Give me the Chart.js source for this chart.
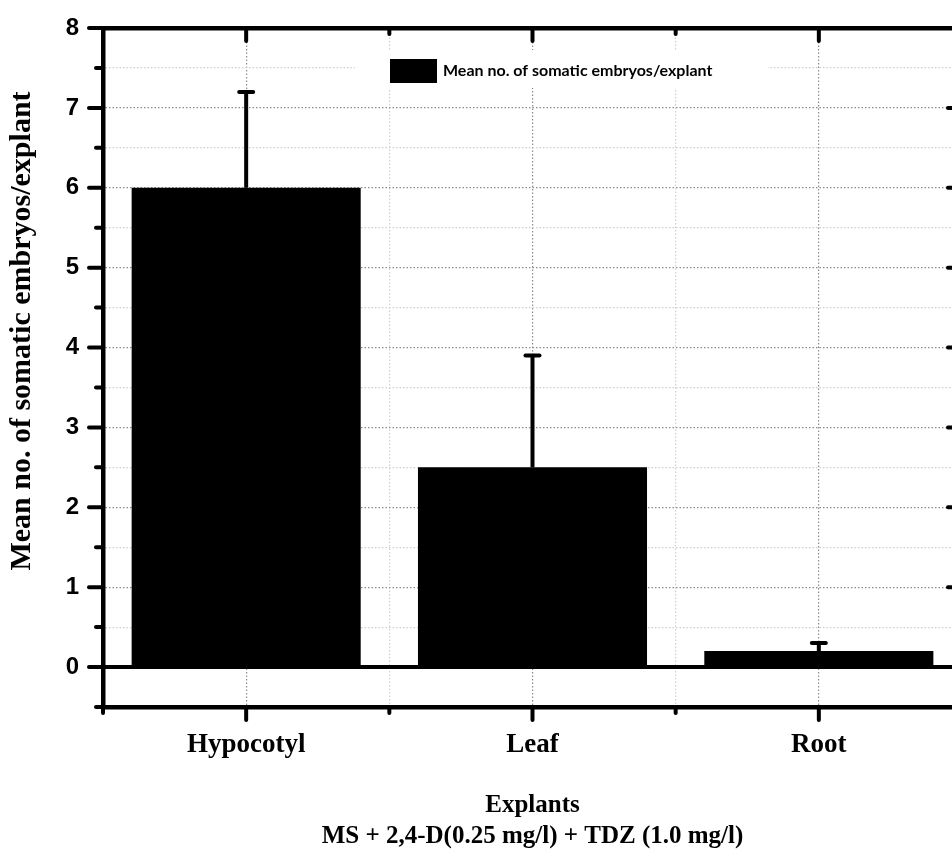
<!DOCTYPE html>
<html>
<head>
<meta charset="utf-8">
<script src="https://cdn.jsdelivr.net/npm/chart.js@4.4.0/dist/chart.umd.min.js"></script>
<style>
  html, body { margin: 0; padding: 0; background: #fff; overflow: hidden; }
  #wrap { width: 972px; height: 854px; }
</style>
</head>
<body>
<div id="wrap"><canvas id="myChart" width="972" height="854"></canvas></div>
<script>
// data
var explants = ['Hypocotyl', 'Leaf', 'Root'];
var meanEmbryos = [6.0, 2.5, 0.2];
var errEmbryos = [1.2, 1.4, 0.1];
var yTickLabels = [0, 1, 2, 3, 4, 5, 6, 7, 8];
var seriesLabel = 'Mean no. of somatic embryos/explant';
var yTitle = 'Mean no. of somatic embryos/explant';
var xTitle = ['Explants', 'MS + 2,4-D(0.25 mg/l) + TDZ (1.0 mg/l)'];

var serif = '"Liberation Serif", "Times New Roman", serif';
var axisW = 4.5;

// error bars, zero line, inset legend, tick marks, y title
var extras = {
    id: 'extras',
    afterDatasetsDraw: function(chart) {
        var ctx = chart.ctx, a = chart.chartArea, y = chart.scales.y;
        ctx.save();
        ctx.strokeStyle = '#000';

        // baseline at zero
        var y0 = y.getPixelForValue(0);
        ctx.lineWidth = 4;
        ctx.beginPath(); ctx.moveTo(a.left, y0); ctx.lineTo(a.right, y0); ctx.stroke();

        // error bars (only the upper half shows above the bar)
        var meta = chart.getDatasetMeta(0);
        meta.data.forEach(function(bar, i) {
            var top = y.getPixelForValue(meanEmbryos[i] + errEmbryos[i]);
            ctx.lineWidth = 4;
            ctx.lineCap = 'butt';
            ctx.beginPath(); ctx.moveTo(bar.x, bar.y); ctx.lineTo(bar.x, top); ctx.stroke();
            ctx.lineCap = 'round';
            ctx.beginPath(); ctx.moveTo(bar.x - 7, top); ctx.lineTo(bar.x + 7, top); ctx.stroke();
        });

        // legend inside the plot
        var lx = a.left + 287, ly = a.top + 31;
        ctx.fillStyle = '#fff';
        ctx.fillRect(lx - 35, ly - 9, 413, 38);
        ctx.fillStyle = chart.data.datasets[0].backgroundColor;
        ctx.fillRect(lx, ly, 47, 24);
        ctx.fillStyle = '#000';
        ctx.font = 'bold 16px Lato, "Open Sans", sans-serif';
        ctx.textBaseline = 'middle';
        ctx.textAlign = 'left';
        ctx.fillText(chart.data.datasets[0].label, lx + 53, ly + 12);
        ctx.restore();
    },
    afterDraw: function(chart) {
        var ctx = chart.ctx, a = chart.chartArea, x = chart.scales.x, y = chart.scales.y;
        ctx.save();
        ctx.strokeStyle = '#000';
        ctx.lineWidth = 4;
        ctx.lineCap = 'round';
        // y ticks, outward on the left, inward on the right
        y.ticks.forEach(function(t) {
            var p = y.getPixelForValue(t.value);
            var len = Number.isInteger(t.value) ? 14 : 7;
            ctx.beginPath(); ctx.moveTo(a.left, p); ctx.lineTo(a.left - len, p); ctx.stroke();
            ctx.beginPath(); ctx.moveTo(a.right, p); ctx.lineTo(a.right - len, p); ctx.stroke();
        });
        // x ticks, majors at categories, minors between
        explants.forEach(function(lab, i) {
            var p = x.getPixelForTick(i);
            ctx.beginPath(); ctx.moveTo(p, a.bottom); ctx.lineTo(p, a.bottom + 13); ctx.stroke();
            ctx.beginPath(); ctx.moveTo(p, a.top); ctx.lineTo(p, a.top + 13); ctx.stroke();
        });
        for (var b = -0.5; b <= explants.length - 0.5; b += 1) {
            var q = x.getPixelForValue(b);
            ctx.beginPath(); ctx.moveTo(q, a.bottom); ctx.lineTo(q, a.bottom + 6); ctx.stroke();
            ctx.beginPath(); ctx.moveTo(q, a.top); ctx.lineTo(q, a.top + 6); ctx.stroke();
        }
        // y axis title
        ctx.translate(22, 331);
        ctx.rotate(-Math.PI / 2);
        ctx.fillStyle = '#000';
        ctx.font = 'bold 30px ' + serif;
        ctx.textAlign = 'center';
        ctx.textBaseline = 'middle';
        ctx.fillText(yTitle, 0, 0);
        ctx.restore();
    }
};

var ctx = document.getElementById('myChart').getContext('2d');
var myChart = new Chart(ctx, {
    type: 'bar',
    data: {
        labels: explants,
        datasets: [{
            label: seriesLabel,
            data: meanEmbryos,
            backgroundColor: '#000000',
            borderWidth: 0,
            barPercentage: 0.8,
            categoryPercentage: 1.0
        }]
    },
    options: {
        responsive: false,
        animation: false,
        layout: { padding: { top: 0, right: 10, left: 0, bottom: 0 } },
        plugins: {
            legend: { display: false },
            tooltip: { enabled: false }
        },
        scales: {
            x: {
                offset: true,
                afterFit: function(s) { s.height = 147; },
                grid: { offset: false, drawTicks: false, color: '#8c8c8c', lineWidth: 1.2 },
                border: { display: true, width: axisW, color: '#000', dash: [1.5, 2] },
                ticks: { padding: 22, color: '#000', maxRotation: 0,
                    font: { family: serif, weight: 'bold', size: 27 } },
                title: { display: true, text: xTitle, color: '#000',
                    font: { family: serif, weight: 'bold', size: 25, lineHeight: 1.24 },
                    padding: { top: 0, bottom: 2 } }
            },
            x2: {
                type: 'category',
                position: 'top',
                offset: true,
                afterFit: function(s) { s.height = 28; },
                grid: { offset: true, drawTicks: false, color: '#cfcfcf', lineWidth: 1.2 },
                border: { display: true, width: axisW, color: '#000', dash: [1.5, 2] },
                ticks: { display: false }
            },
            y: {
                min: -0.5,
                max: 8,
                afterFit: function(s) { s.width = 103; s.paddingTop = 0; s.paddingBottom = 0; },
                grid: { drawTicks: false, lineWidth: 1.2,
                    color: function(c) { return Number.isInteger(c.tick.value) ? '#8c8c8c' : '#cfcfcf'; } },
                border: { display: true, width: axisW, color: '#000', dash: [1.5, 2] },
                ticks: { stepSize: 0.5, autoSkip: false, padding: 24, color: '#000',
                    font: { family: '"Liberation Sans", Arial, sans-serif', weight: 'bold', size: 24 },
                    callback: function(v) { return yTickLabels.indexOf(v) >= 0 ? v : ''; } }
            },
            y2: {
                position: 'right',
                min: -0.5,
                max: 8,
                afterFit: function(s) { s.width = 0; s.paddingTop = 0; s.paddingBottom = 0; },
                grid: { display: false, drawTicks: false },
                border: { display: true, width: axisW, color: '#000' },
                ticks: { display: false }
            }
        }
    },
    plugins: [extras]
});
</script>
</body>
</html>
